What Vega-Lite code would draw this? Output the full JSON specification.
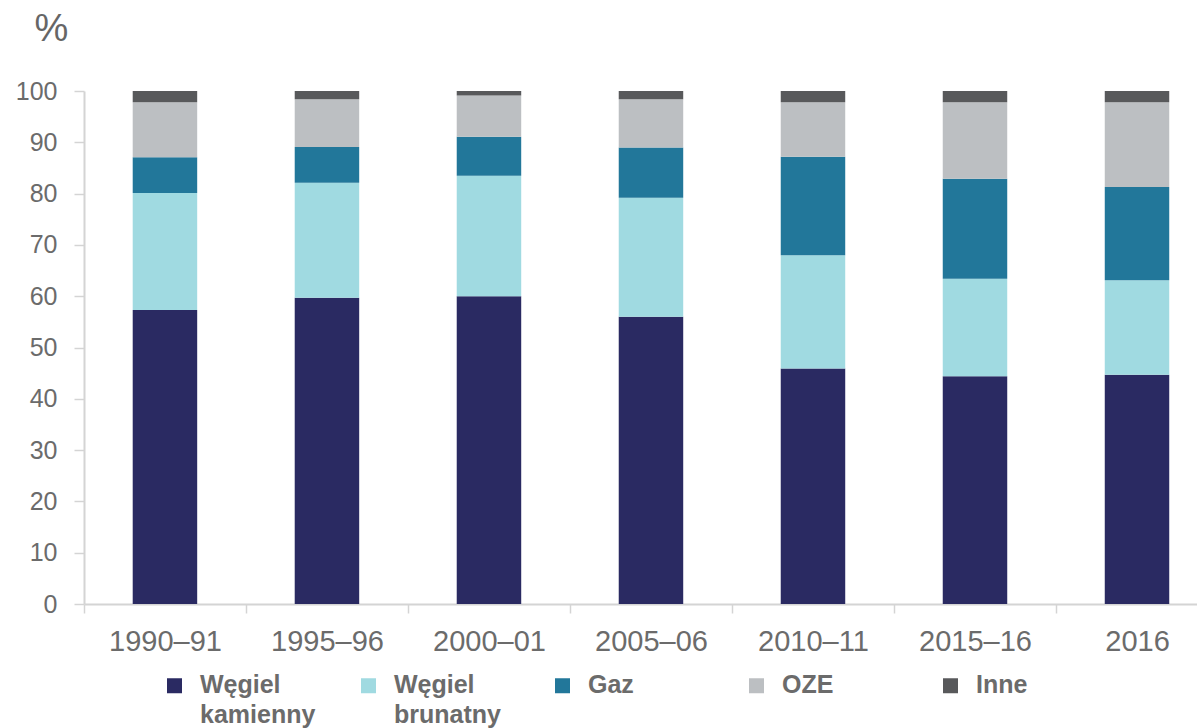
{
  "$schema": "https://vega.github.io/schema/vega-lite/v6.json",
  "width": 1113,
  "height": 513,
  "autosize": {"type": "none"},
  "padding": {"left": 84, "top": 91, "right": 0, "bottom": 124},
  "background": "white",
  "data": {
    "values": [
      {"period": "1990–91", "source": "Węgiel kamienny", "k": 1, "value": 57.3},
      {"period": "1990–91", "source": "Węgiel brunatny", "k": 2, "value": 22.8},
      {"period": "1990–91", "source": "Gaz", "k": 3, "value": 7.0},
      {"period": "1990–91", "source": "OZE", "k": 4, "value": 10.7},
      {"period": "1990–91", "source": "Inne", "k": 5, "value": 2.2},
      {"period": "1995–96", "source": "Węgiel kamienny", "k": 1, "value": 59.7},
      {"period": "1995–96", "source": "Węgiel brunatny", "k": 2, "value": 22.4},
      {"period": "1995–96", "source": "Gaz", "k": 3, "value": 7.0},
      {"period": "1995–96", "source": "OZE", "k": 4, "value": 9.3},
      {"period": "1995–96", "source": "Inne", "k": 5, "value": 1.6},
      {"period": "2000–01", "source": "Węgiel kamienny", "k": 1, "value": 60.0},
      {"period": "2000–01", "source": "Węgiel brunatny", "k": 2, "value": 23.5},
      {"period": "2000–01", "source": "Gaz", "k": 3, "value": 7.6},
      {"period": "2000–01", "source": "OZE", "k": 4, "value": 8.0},
      {"period": "2000–01", "source": "Inne", "k": 5, "value": 0.9},
      {"period": "2005–06", "source": "Węgiel kamienny", "k": 1, "value": 56.0},
      {"period": "2005–06", "source": "Węgiel brunatny", "k": 2, "value": 23.2},
      {"period": "2005–06", "source": "Gaz", "k": 3, "value": 9.8},
      {"period": "2005–06", "source": "OZE", "k": 4, "value": 9.4},
      {"period": "2005–06", "source": "Inne", "k": 5, "value": 1.6},
      {"period": "2010–11", "source": "Węgiel kamienny", "k": 1, "value": 45.9},
      {"period": "2010–11", "source": "Węgiel brunatny", "k": 2, "value": 22.1},
      {"period": "2010–11", "source": "Gaz", "k": 3, "value": 19.2},
      {"period": "2010–11", "source": "OZE", "k": 4, "value": 10.6},
      {"period": "2010–11", "source": "Inne", "k": 5, "value": 2.2},
      {"period": "2015–16", "source": "Węgiel kamienny", "k": 1, "value": 44.4},
      {"period": "2015–16", "source": "Węgiel brunatny", "k": 2, "value": 19.0},
      {"period": "2015–16", "source": "Gaz", "k": 3, "value": 19.5},
      {"period": "2015–16", "source": "OZE", "k": 4, "value": 14.9},
      {"period": "2015–16", "source": "Inne", "k": 5, "value": 2.2},
      {"period": "2016", "source": "Węgiel kamienny", "k": 1, "value": 44.7},
      {"period": "2016", "source": "Węgiel brunatny", "k": 2, "value": 18.4},
      {"period": "2016", "source": "Gaz", "k": 3, "value": 18.2},
      {"period": "2016", "source": "OZE", "k": 4, "value": 16.5},
      {"period": "2016", "source": "Inne", "k": 5, "value": 2.2}
    ]
  },
  "mark": {"type": "bar"},
  "encoding": {
    "x": {
      "field": "period",
      "type": "nominal",
      "sort": null,
      "scale": {"paddingInner": 0.602, "paddingOuter": 0.236, "align": 0.637},
      "axis": {
        "title": null,
        "labelAngle": 0,
        "labelFont": "Liberation Sans",
        "labelFontSize": 29,
        "labelColor": "#6b6b6b",
        "labelPadding": 14,
        "tickSize": 9,
        "tickColor": "#d4d4d4",
        "tickWidth": 1.5,
        "domainColor": "#d4d4d4",
        "domainWidth": 2,
        "bandPosition": 0.5,
        "tickOffset": -81,
        "labelOffset": 81,
        "grid": false
      }
    },
    "y": {
      "field": "value",
      "type": "quantitative",
      "stack": "zero",
      "scale": {"domain": [0, 100], "nice": false},
      "axis": {
        "title": "%",
        "titleAngle": 0,
        "titleX": -33,
        "titleY": -62,
        "titleAlign": "center",
        "titleBaseline": "middle",
        "titleFont": "Liberation Sans",
        "titleFontSize": 38,
        "titleFontWeight": "normal",
        "titleColor": "#666666",
        "values": [0, 10, 20, 30, 40, 50, 60, 70, 80, 90, 100],
        "labelFont": "Liberation Sans",
        "labelFontSize": 25,
        "labelColor": "#6b6b6b",
        "labelPadding": 17,
        "tickSize": 10,
        "tickColor": "#d4d4d4",
        "tickWidth": 1.5,
        "domainColor": "#d4d4d4",
        "domainWidth": 2,
        "grid": false
      }
    },
    "color": {
      "field": "source",
      "type": "nominal",
      "sort": ["Węgiel kamienny", "Węgiel brunatny", "Gaz", "OZE", "Inne"],
      "scale": {
        "domain": ["Węgiel kamienny", "Węgiel brunatny", "Gaz", "OZE", "Inne"],
        "range": ["#2a2a62", "#a0dae1", "#22779a", "#bcbfc2", "#58595b"]
      },
      "legend": {
        "title": null,
        "orient": "none",
        "legendX": 78,
        "legendY": 582,
        "direction": "horizontal",
        "columns": 5,
        "gridAlign": "all",
        "columnPadding": 40,
        "padding": 0,
        "symbolType": "square",
        "symbolSize": 225,
        "symbolStrokeWidth": 0,
        "labelFont": "Liberation Sans",
        "labelFontSize": 25,
        "labelFontWeight": "bold",
        "labelColor": "#6b6b6b",
        "labelOffset": 13,
        "labelLimit": 0,
        "labelBaseline": "top",
        "labelExpr": "indexof(datum.label, ' ') > 0 ? split(datum.label, ' ') : [datum.label, '']",
        "encode": {
          "labels": {"update": {"dy": {"value": -13}}}
        }
      }
    },
    "order": {"field": "k", "type": "quantitative"}
  },
  "config": {
    "view": {"stroke": null},
    "style": {"guide-label": {"lineHeight": 30}}
  }
}
